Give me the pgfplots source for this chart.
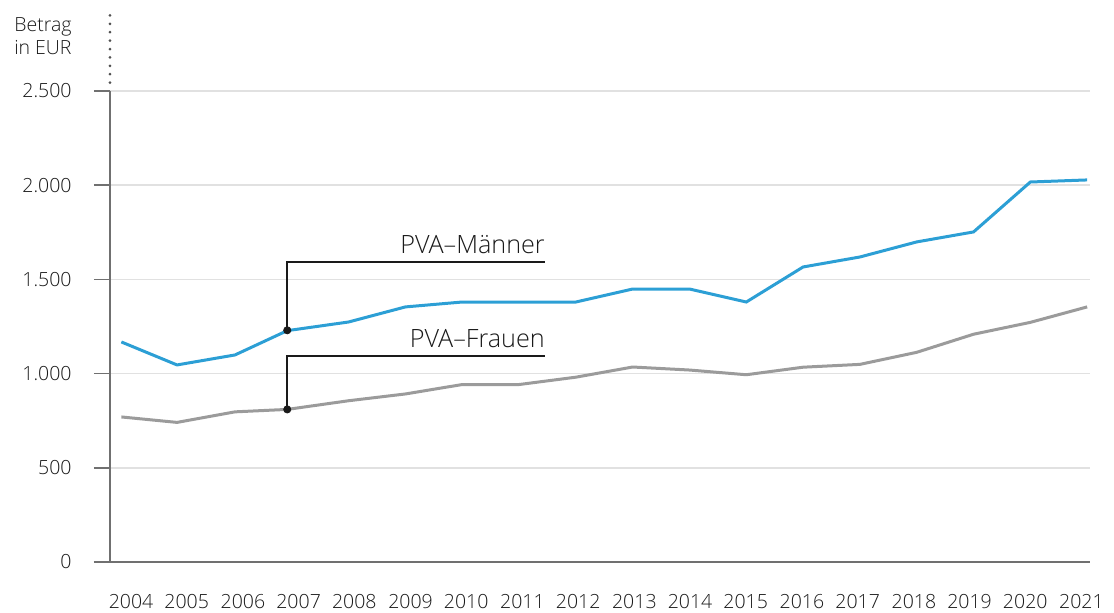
\documentclass[border=0pt]{standalone}
\usepackage{pgfplots}
\pgfplotsset{compat=1.18}
\usepackage{fontspec}
\setmainfont{Open Sans}[UprightFont=* Light]
\definecolor{blueline}{RGB}{44,159,213}
\definecolor{grayline}{RGB}{155,155,155}
\definecolor{gridgray}{RGB}{225,225,225}
\definecolor{axisgray}{RGB}{112,112,112}
\definecolor{dotgray}{RGB}{80,80,80}
\definecolor{txt}{RGB}{26,26,26}
\begin{document}
\begin{tikzpicture}
\begin{axis}[
  at={(0,0)}, anchor=south west,
  scale only axis, width=490pt, height=235.5pt,
  xmin=-0.2, xmax=17.05, ymin=0, ymax=2500,
  clip=false,
  axis line style={draw=none},
  tick align=outside,
  tick pos=left,
  xtick={0.17,1.15,2.14,3.12,4.10,5.09,6.07,7.06,8.04,9.03,10.01,10.99,11.98,12.96,13.95,14.93,15.91,16.90},
  xticklabels={2004,2005,2006,2007,2008,2009,2010,2011,2012,2013,2014,2015,2016,2017,2018,2019,2020,2021},
  xtick style={draw=none},
  ytick={0,500,1000,1500,2000,2500},
  yticklabels={0,500,1.000,1.500,2.000,2.500},
  ytick style={draw=axisgray, line width=0.75pt},
  major tick length=8pt,
  ymajorgrids, grid style={gridgray, line width=0.75pt},
  tick label style={font=\fontsize{9.75}{11}\selectfont, text=txt},
  xticklabel style={anchor=north, inner sep=0pt, yshift=-8pt},
  yticklabel style={anchor=east, inner sep=0pt, xshift=-11pt},
]
\addplot[blueline, line width=1.5pt] coordinates {
(0,1168) (0.98,1046) (2,1099) (2.92,1228) (4,1274) (5,1354) (6,1380) (7,1380) (8,1380)
(9,1449) (10,1449) (11,1380) (12,1566) (13,1619) (14,1699) (15,1752) (16,2017) (17,2028)};
\addplot[grayline, line width=1.5pt] coordinates {
(0,770) (0.98,741) (2,797) (2.92,810) (4,856) (5,892) (6,942) (7,942) (8,981)
(9,1035) (10,1019) (11,994) (12,1034) (13,1049) (14,1113) (15,1209) (16,1272) (17,1354)};
\draw[txt, line width=1pt] (axis cs:2.92,1230) -- (axis cs:2.92,1594) -- (axis cs:7.46,1594);
\draw[txt, line width=1pt] (axis cs:2.92,810) -- (axis cs:2.92,1093) -- (axis cs:7.46,1093);
\addplot[only marks, mark=*, mark size=1.8pt, txt] coordinates {(2.92,1230) (2.92,810)};
\node[anchor=base east, inner sep=0pt, text=txt, font=\fontsize{12.6}{14}\selectfont] at (axis cs:7.46,1640) {PVA–Männer};
\node[anchor=base east, inner sep=0pt, text=txt, font=\fontsize{12.6}{14}\selectfont] at (axis cs:7.46,1136) {PVA–Frauen};
\draw[axisgray, line width=0.9pt] ([xshift=-8pt]axis cs:-0.2,0) -- (axis cs:17.05,0);
\draw[axisgray, line width=0.9pt] (axis cs:-0.2,0) -- (axis cs:-0.2,2500);
\draw[dotgray, line width=1.5pt, line cap=round, dash pattern=on 0pt off 4.2pt] ([yshift=4.2pt]axis cs:-0.2,2500) -- ([yshift=38pt]axis cs:-0.2,2500);
\end{axis}
\node[anchor=base east, inner sep=0pt, text=txt, font=\fontsize{9.75}{11}\selectfont] at (-19pt,265pt) {Betrag};
\node[anchor=base east, inner sep=0pt, text=txt, font=\fontsize{9.75}{11}\selectfont] at (-19pt,253.5pt) {in EUR};
\pgfresetboundingbox
\path (-55pt,-25pt) rectangle (502pt,281pt);
\end{tikzpicture}
\end{document}
